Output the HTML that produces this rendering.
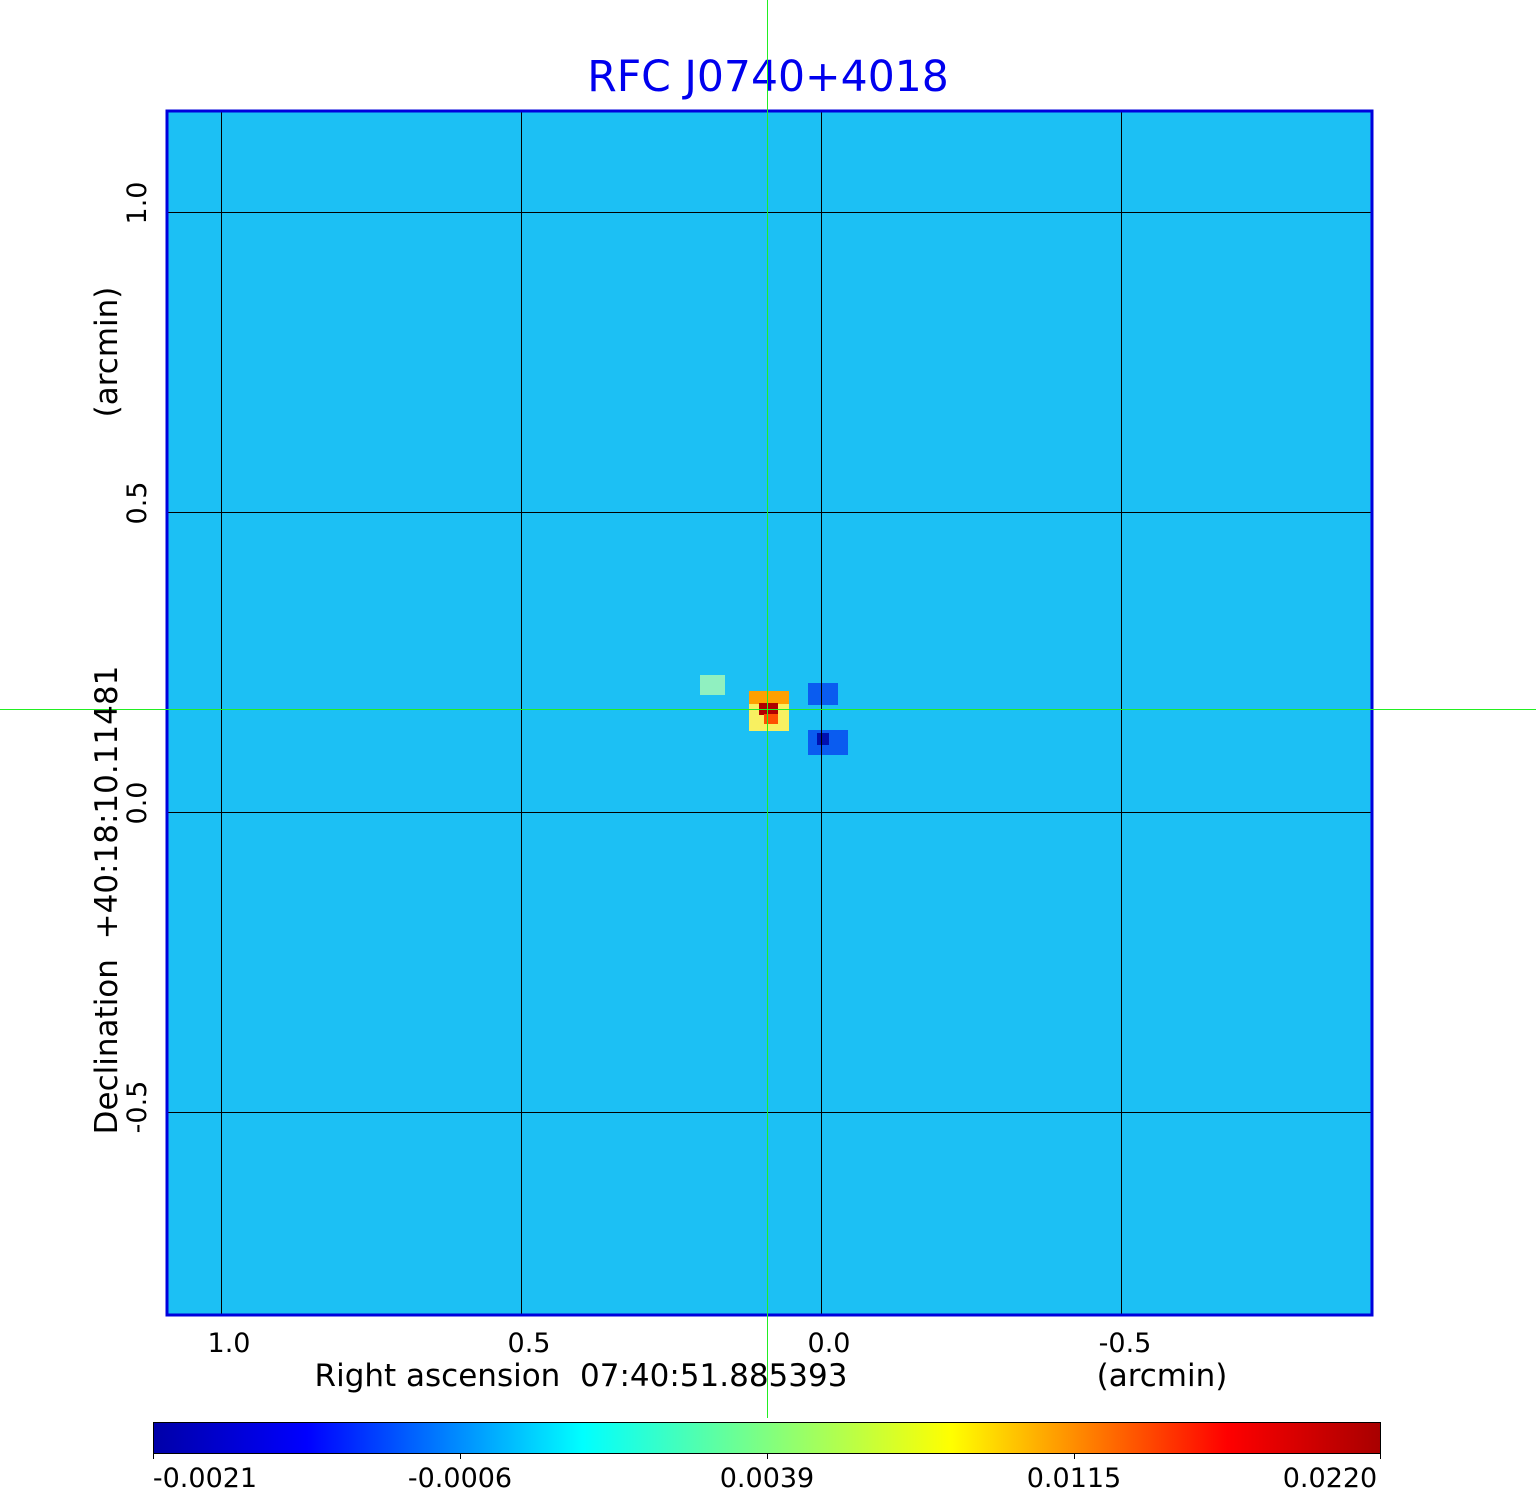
<!DOCTYPE html>
<html><head><style>
html,body{margin:0;padding:0;background:#fff;}
svg{display:block;font-family:"DejaVu Sans","Liberation Sans",sans-serif;}
</style></head><body>
<svg width="1536" height="1511" viewBox="0 0 1536 1511" xmlns="http://www.w3.org/2000/svg">
<defs>
<linearGradient id="cb" x1="0" x2="1" y1="0" y2="0">
<stop offset="0" stop-color="#0000a8"/>
<stop offset="0.125" stop-color="#0000ff"/>
<stop offset="0.35" stop-color="#00ffff"/>
<stop offset="0.5" stop-color="#80ff80"/>
<stop offset="0.65" stop-color="#ffff00"/>
<stop offset="0.875" stop-color="#ff0000"/>
<stop offset="1" stop-color="#a80000"/>
</linearGradient>
</defs>
<text x="768" y="91" text-anchor="middle" font-size="42.5" fill="#0000ee">RFC J0740+4018</text>
<rect x="168" y="112" width="1203" height="1202" fill="#1cc0f4"/>
<rect x="749" y="691" width="40" height="40" fill="#f8f060"/>
<rect x="749" y="691" width="40" height="13" fill="#ffa000"/>
<rect x="759" y="703" width="19" height="12" fill="#b00000"/>
<rect x="764" y="714" width="14" height="10" fill="#ff5000"/>
<rect x="808" y="683" width="30" height="22" fill="#0a5cf0"/>
<rect x="808" y="730" width="40" height="25" fill="#0a5cf0"/>
<rect x="817" y="733" width="12" height="12" fill="#0010b0"/>
<rect x="700" y="675" width="25" height="20" fill="#90f0c0"/>
<g stroke="#000" stroke-width="1">
<line x1="221.5" y1="112" x2="221.5" y2="1314"/>
<line x1="521.5" y1="112" x2="521.5" y2="1314"/>
<line x1="821.5" y1="112" x2="821.5" y2="1314"/>
<line x1="1121.5" y1="112" x2="1121.5" y2="1314"/>
<line x1="168" y1="212.5" x2="1371" y2="212.5"/>
<line x1="168" y1="512.5" x2="1371" y2="512.5"/>
<line x1="168" y1="812.5" x2="1371" y2="812.5"/>
<line x1="168" y1="1112.5" x2="1371" y2="1112.5"/>
</g>
<rect x="167" y="111" width="1205" height="1204" fill="none" stroke="#0000dd" stroke-width="3"/>
<rect x="767" y="0" width="1" height="1418" fill="#22ee22"/>
<rect x="0" y="709" width="1536" height="1" fill="#22ee22"/>
<g font-size="27" fill="#000">
<text x="229" y="1352" text-anchor="middle">1.0</text>
<text x="529" y="1352" text-anchor="middle">0.5</text>
<text x="829" y="1352" text-anchor="middle">0.0</text>
<text x="1125" y="1352" text-anchor="middle">-0.5</text>
<text x="581" y="1386" text-anchor="middle" font-size="31">Right ascension&#160;&#160;07:40:51.885393</text>
<text x="1162" y="1386" text-anchor="middle" font-size="31">(arcmin)</text>
<text transform="translate(146,203) rotate(-90)" text-anchor="middle">1.0</text>
<text transform="translate(146,503) rotate(-90)" text-anchor="middle">0.5</text>
<text transform="translate(146,803) rotate(-90)" text-anchor="middle">0.0</text>
<text transform="translate(146,1107) rotate(-90)" text-anchor="middle">-0.5</text>
<text transform="translate(117,900) rotate(-90)" text-anchor="middle" font-size="31">Declination&#160;&#160;+40:18:10.11481</text>
<text transform="translate(117,352) rotate(-90)" text-anchor="middle" font-size="31">(arcmin)</text>
</g>
<rect x="153.5" y="1422.5" width="1227" height="31" fill="url(#cb)" stroke="#000" stroke-width="1"/>
<g stroke="#000"><line x1="153.5" y1="1453" x2="153.5" y2="1459"/><line x1="460.5" y1="1453" x2="460.5" y2="1459"/><line x1="767.5" y1="1453" x2="767.5" y2="1459"/><line x1="1074.5" y1="1453" x2="1074.5" y2="1459"/><line x1="1380.5" y1="1453" x2="1380.5" y2="1459"/></g>
<g font-size="27" fill="#000" text-anchor="middle">
<text x="205" y="1487">-0.0021</text>
<text x="460" y="1487">-0.0006</text>
<text x="767" y="1487">0.0039</text>
<text x="1074" y="1487">0.0115</text>
<text x="1330" y="1487">0.0220</text>
</g>
</svg>
</body></html>
